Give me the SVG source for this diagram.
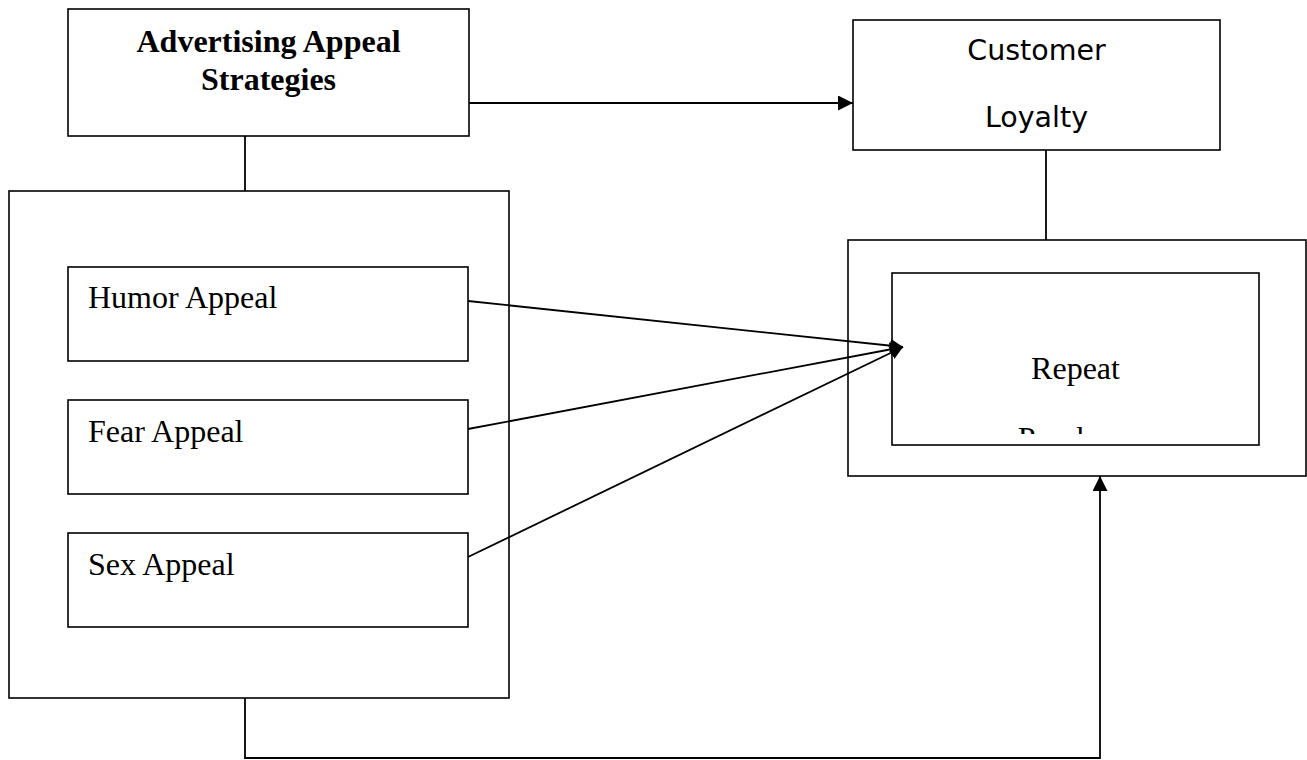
<svg xmlns="http://www.w3.org/2000/svg" width="1307" height="760" viewBox="0 0 1307 760">
<style>
.box{fill:#fff;stroke:#000;stroke-width:1.6}
.con{fill:none;stroke:#000;stroke-width:1.8}
.serif{font-family:"Liberation Serif","Times New Roman",serif;font-size:32px;fill:#000}
.bold{font-weight:bold}
.sans{font-family:"DejaVu Sans",Verdana,sans-serif;font-size:28.5px;fill:#000}
</style>
<defs>
<marker id="ah" markerUnits="userSpaceOnUse" markerWidth="16" markerHeight="16" refX="15" refY="7.5" orient="auto">
<path d="M0,0 L15,7.5 L0,15 Z" fill="#000"/>
</marker>
<marker id="ah2" markerUnits="userSpaceOnUse" markerWidth="16" markerHeight="16" refX="13" refY="7" orient="auto">
<path d="M0,0 L13,7 L0,14 Z" fill="#000"/>
</marker>
<clipPath id="clipP"><rect x="892" y="273" width="367" height="161"/></clipPath>
</defs>
<g id="advertising">
<rect class="box" x="68" y="9" width="401" height="127"/>
<text class="serif bold" x="268.5" y="52" text-anchor="middle">Advertising Appeal</text>
<text class="serif bold" x="268.5" y="90" text-anchor="middle">Strategies</text>
</g>
<g id="appeals-group">
<rect class="box" x="9" y="191" width="500" height="507"/>
</g>
<g id="humor">
<rect class="box" x="68" y="267" width="400" height="94"/>
<text class="serif" x="88" y="308">Humor Appeal</text>
</g>
<g id="fear">
<rect class="box" x="68" y="400" width="400" height="94"/>
<text class="serif" x="88" y="442">Fear Appeal</text>
</g>
<g id="sex">
<rect class="box" x="68" y="533" width="400" height="94"/>
<text class="serif" x="88" y="575">Sex Appeal</text>
</g>
<g id="customer-loyalty">
<rect class="box" x="853" y="20" width="367" height="130"/>
<text class="sans" x="1036.5" y="60" text-anchor="middle">Customer</text>
<text class="sans" x="1036.5" y="127" text-anchor="middle">Loyalty</text>
</g>
<g id="repeat-outer">
<rect class="box" x="848" y="240" width="458" height="236"/>
</g>
<g id="repeat-purchase">
<rect class="box" x="892" y="273" width="367" height="172"/>
<text class="serif" x="1075.5" y="379" text-anchor="middle">Repeat</text>
<text class="serif" x="1075.5" y="449" text-anchor="middle" clip-path="url(#clipP)">Purchase</text>
</g>
<g id="connectors">
<line class="con" x1="245" y1="136" x2="245" y2="191"/>
<line class="con" x1="1046" y1="150" x2="1046" y2="240"/>
<line class="con" x1="469" y1="103" x2="853" y2="103" marker-end="url(#ah)"/>
<line class="con" x1="468" y1="301" x2="903" y2="347" marker-end="url(#ah2)"/>
<line class="con" x1="468" y1="429" x2="903" y2="347" marker-end="url(#ah2)"/>
<line class="con" x1="468" y1="557" x2="903" y2="347" marker-end="url(#ah2)"/>
<polyline class="con" points="245,698 245,758 1100,758 1100,476" marker-end="url(#ah)"/>
</g>
</svg>
